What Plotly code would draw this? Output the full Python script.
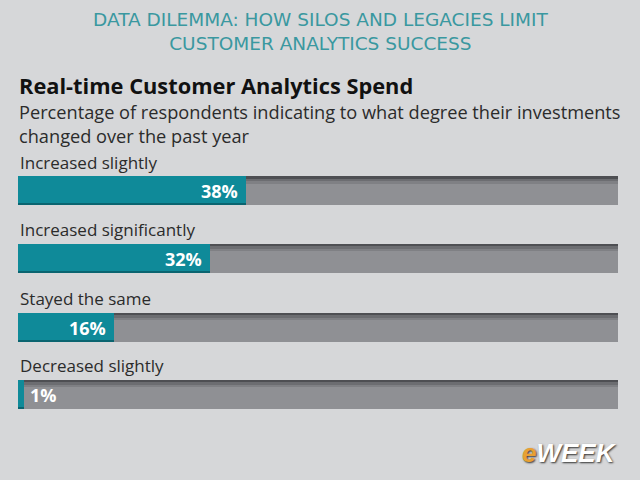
import plotly.graph_objects as go

categories = ["Increased slightly", "Increased significantly", "Stayed the same", "Decreased slightly"]
values = [38, 32, 16, 1]
value_labels = ["38%", "32%", "16%", "1%"]
full_scale = 100

W, H = 640, 480
x0_px, x1_px = 18, 618
bar_centers = [190.5, 258.0, 327.0, 394.0]
bar_h = 29

fig = go.Figure()

# grey track
fig.add_trace(go.Bar(
    y=bar_centers, x=[full_scale] * len(values), orientation="h", width=bar_h,
    marker=dict(color="#8f9094", line=dict(width=0)), hoverinfo="skip", showlegend=False))
# darker top shading of track
for off, col, w in [(-bar_h / 2 + 1.5, "#4e4f53", 3), (-bar_h / 2 + 4, "#6c6d71", 2.5), (-bar_h / 2 + 6.5, "#7f8084", 2.5)]:
    fig.add_trace(go.Bar(
        y=[c + off for c in bar_centers], x=[full_scale] * len(values), orientation="h", width=w,
        marker=dict(color=col, line=dict(width=0)), hoverinfo="skip", showlegend=False))
# teal values
fig.add_trace(go.Bar(
    y=bar_centers, x=values, orientation="h", width=bar_h,
    marker=dict(color="#0f8a99", line=dict(width=0)), hoverinfo="skip", showlegend=False))
# teal bottom darker edge
fig.add_trace(go.Bar(
    y=[c + bar_h / 2 - 1 for c in bar_centers], x=values, orientation="h", width=2,
    marker=dict(color="#0a6470", line=dict(width=0)), hoverinfo="skip", showlegend=False))

annotations = []
for cat, v, lab, c in zip(categories, values, value_labels, bar_centers):
    annotations.append(dict(x=0, y=c - bar_h / 2 - 14, xref="x", yref="y", text=cat,
                            showarrow=False, xanchor="left", yanchor="middle",
                            font=dict(family="Open Sans", size=17, color="#2b2b2b")))
    if v >= 5:
        annotations.append(dict(x=v - 1.0, y=c + 0.5, xref="x", yref="y", text=f"<b>{lab}</b>",
                                showarrow=False, xanchor="right", yanchor="middle",
                                font=dict(family="Open Sans", size=18, color="white")))
    else:
        annotations.append(dict(x=v + 0.6, y=c + 0.5, xref="x", yref="y", text=f"<b>{lab}</b>",
                                showarrow=False, xanchor="left", yanchor="middle",
                                font=dict(family="Open Sans", size=18, color="white")))

def pxy(px, py):
    return px / W, 1 - py / H

annotations.append(dict(x=0.5, y=pxy(0, 31.5)[1], xref="paper", yref="paper",
                        text="DATA DILEMMA: HOW SILOS AND LEGACIES LIMIT<br>CUSTOMER ANALYTICS SUCCESS",
                        showarrow=False, xanchor="center", yanchor="middle", align="center",
                        font=dict(family="DejaVu Sans", size=18.5, color="#3a98a0")))
annotations.append(dict(x=pxy(17, 0)[0], y=pxy(0, 85)[1], xref="paper", yref="paper",
                        text="<b>Real-time Customer Analytics Spend</b>", showarrow=False,
                        xanchor="left", yanchor="middle",
                        font=dict(family="Open Sans", size=21.8, color="#111111")))
annotations.append(dict(x=pxy(17, 0)[0], y=pxy(0, 124)[1], xref="paper", yref="paper",
                        text="Percentage of respondents indicating to what degree their investments<br>changed over the past year",
                        showarrow=False, xanchor="left", yanchor="middle", align="left",
                        font=dict(family="Open Sans", size=18.2, color="#2b2b2b")))
# logo
annotations.append(dict(x=pxy(619, 0)[0], y=pxy(0, 453)[1], xref="paper", yref="paper",
                        text="<b><i><span style='color:#e8a033'>e</span>WEEK</i></b>",
                        showarrow=False, xanchor="right", yanchor="middle",
                        font=dict(family="Liberation Sans", size=26, color="white",
                                  shadow="1px 1px 2px #333")))

fig.update_layout(
    width=W, height=H, margin=dict(l=0, r=0, t=0, b=0),
    paper_bgcolor="#d6d7d9", plot_bgcolor="rgba(0,0,0,0)",
    barmode="overlay", bargap=0,
    xaxis=dict(domain=[x0_px / W, x1_px / W], range=[0, full_scale], visible=False, fixedrange=True),
    yaxis=dict(domain=[0, 1], range=[H, 0], visible=False, fixedrange=True),
    annotations=annotations, showlegend=False,
)

fig.write_html("out.html")
